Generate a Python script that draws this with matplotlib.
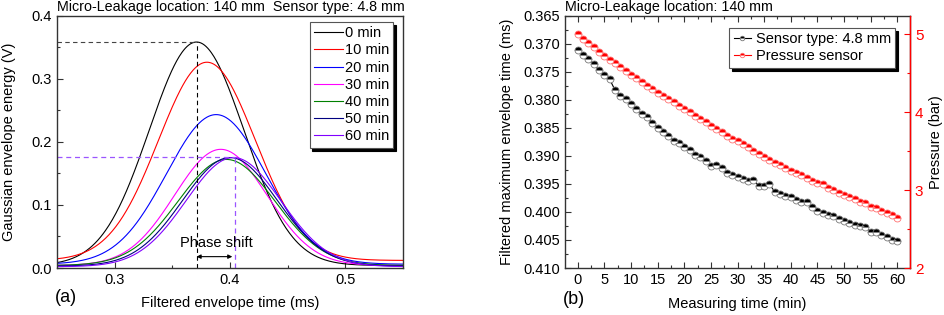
import matplotlib
matplotlib.use('Agg')
import matplotlib.pyplot as plt
import numpy as np

plt.rcParams['font.family'] = ['Liberation Sans', 'DejaVu Sans']
plt.rcParams['font.size'] = 10

# (a) Gaussian envelope fits
labels_a = ['0 min', '10 min', '20 min', '30 min', '40 min', '50 min', '60 min']
colors_a = ['black', 'red', 'blue', '#ff00ff', '#008000', '#000080', '#8000ff']
peak_time = [0.371, 0.380, 0.388, 0.392, 0.397, 0.400, 0.403]
peak_energy = [0.358, 0.326, 0.243, 0.188, 0.172, 0.175, 0.175]
spread = [0.041, 0.042, 0.043, 0.040, 0.042, 0.041, 0.041]
baseline = [0.004, 0.012, 0.006, 0.004, 0.004, 0.003, 0.002]
shift_start, shift_end = 0.371, 0.404
level_first, level_last = 0.358, 0.176

# (b) maximum envelope time and pressure vs measuring time
minutes = list(range(61))
env_time = [0.3711, 0.3720, 0.3728, 0.3737, 0.3747, 0.3756, 0.3764, 0.3783, 0.3793, 0.3799,
            0.3808, 0.3817, 0.3826, 0.3830, 0.3841, 0.3850, 0.3857, 0.3865, 0.3873, 0.3877,
            0.3885, 0.3890, 0.3899, 0.3902, 0.3909, 0.3919, 0.3916, 0.3922, 0.3931, 0.3934,
            0.3937, 0.3942, 0.3945, 0.3944, 0.3953, 0.3954, 0.3951, 0.3964, 0.3968, 0.3971,
            0.3973, 0.3979, 0.3983, 0.3983, 0.3991, 0.3999, 0.4002, 0.4005, 0.4008, 0.4012,
            0.4016, 0.4020, 0.4024, 0.4026, 0.4027, 0.4035, 0.4036, 0.4041, 0.4045, 0.4050,
            0.4052]
pressure = [5.00, 4.94, 4.885, 4.83, 4.775, 4.72, 4.675, 4.63, 4.575, 4.53,
            4.48, 4.44, 4.39, 4.34, 4.295, 4.245, 4.205, 4.165, 4.125, 4.085,
            4.04, 4.00, 3.95, 3.915, 3.87, 3.825, 3.785, 3.745, 3.70, 3.66,
            3.625, 3.59, 3.555, 3.505, 3.458, 3.423, 3.39, 3.349, 3.319, 3.277,
            3.243, 3.213, 3.19, 3.149, 3.119, 3.094, 3.072, 3.03, 3.0, 2.957,
            2.936, 2.915, 2.881, 2.851, 2.83, 2.787, 2.766, 2.736, 2.702, 2.681,
            2.647]

fig = plt.figure(figsize=(9.45, 3.15), dpi=100)
W, H = 945.0, 315.0
ax1 = fig.add_axes([57 / W, 1 - 268 / H, 346 / W, 252.5 / H])
ax2 = fig.add_axes([565 / W, 1 - 268 / H, 345 / W, 252.5 / H])

def style(ax):
    for s in ax.spines.values():
        s.set_linewidth(1.0)
        s.set_color('#333333')
    ax.tick_params(which='both', direction='in', width=0.8, colors='#333333', labelcolor='black',
                   labelsize=10.5)
    ax.tick_params(which='major', length=4)
    ax.tick_params(which='minor', length=2.3)

# ---- panel (a)
t = np.linspace(0.25, 0.55, 400)
for lab, c, mu, pk, s, b in zip(labels_a, colors_a, peak_time, peak_energy, spread, baseline):
    ax1.plot(t, b + (pk - b) * np.exp(-(t - mu) ** 2 / (2 * s ** 2)), color=c, lw=0.8, label=lab)

ax1.plot([0.25, shift_start], [level_first, level_first], ls=(0, (4, 3)), color='#444444', lw=0.8)
ax1.plot([shift_start, shift_start], [0, level_first], ls=(0, (4, 3)), color='black', lw=0.8)
ax1.plot([0.25, shift_end], [level_last, level_last], ls=(0, (4, 3)), color='#9b55ff', lw=0.9)
ax1.plot([shift_end, shift_end], [0, level_last], ls=(0, (4, 3)), color='#9b55ff', lw=0.9)
ax1.annotate('', xy=(shift_start, 0.018), xytext=(shift_end - 0.002, 0.018),
             arrowprops=dict(arrowstyle='<|-|>', color='black', lw=0.8, mutation_scale=6,
                             shrinkA=0, shrinkB=0))
ax1.text(0.3885, 0.039, 'Phase shift', ha='center', va='center', fontsize=10.5)

ax1.set_xlim(0.25, 0.55)
ax1.set_ylim(0, 0.4)
ax1.set_xticks([0.3, 0.4, 0.5])
ax1.set_xticks([0.35, 0.45], minor=True)
ax1.set_yticks([0.0, 0.1, 0.2, 0.3, 0.4])
ax1.set_yticks([0.05, 0.15, 0.25, 0.35], minor=True)
ax1.set_yticklabels(['0.0', '0.1', '0.2', '0.3', '0.4'])
style(ax1)
leg1 = ax1.legend(loc='upper right', bbox_to_anchor=(0.972, 0.975), frameon=True, fancybox=False,
                  shadow={'color': 'black', 'alpha': 1.0}, handlelength=2.0, handletextpad=0.1,
                  labelspacing=0.22, borderpad=0.3, borderaxespad=0.0, fontsize=10.5)
leg1.get_frame().set_edgecolor('#555555')
leg1.get_frame().set_linewidth(0.8)

fig.text(57 / W, 1 - 7 / H, 'Micro-Leakage location: 140 mm  Sensor type: 4.8 mm',
         ha='left', va='center', fontsize=10.3)
fig.text(230 / W, 1 - 303 / H, 'Filtered envelope time (ms)', ha='center', va='center', fontsize=10.5)
fig.text(9 / W, 1 - 142 / H, 'Gaussian envelope energy (V)', ha='center', va='center',
         rotation=90, fontsize=10.5)
fig.text(66 / W, 1 - 297 / H, '(a)', ha='center', va='center', fontsize=13)

# ---- panel (b)
ax2.plot(minutes, env_time, color='black', lw=0.8, marker='o', ms=5, fillstyle='top',
         markerfacecolor='black', markerfacecoloralt='white', markeredgecolor='#777777',
         mew=0.6, label='Sensor type: 4.8 mm')
ax2.set_xlim(-2.4, 62.4)
ax2.set_ylim(0.410, 0.365)
ax2.set_xticks(range(0, 61, 5))
ax2.set_xticks(np.arange(2.5, 61, 5), minor=True)
ax2.set_yticks(np.arange(0.365, 0.4101, 0.005))
ax2.set_yticks(np.arange(0.3675, 0.41, 0.005), minor=True)
ax2.set_yticklabels(['%.3f' % v for v in np.arange(0.365, 0.4101, 0.005)])
style(ax2)
ax2.tick_params(which='both', top=True)

ax3 = ax2.twinx()
ax3.plot(minutes, pressure, color='red', lw=0.8, marker='o', ms=5, fillstyle='top',
         markerfacecolor='red', markerfacecoloralt='white', markeredgecolor='#ff7070',
         mew=0.6, label='Pressure sensor')
ax3.set_ylim(2, 5.24)
ax3.set_yticks([2, 3, 4, 5])
ax3.set_yticks([2.5, 3.5, 4.5], minor=True)
ax3.spines['right'].set_color('red')
ax3.spines['right'].set_linewidth(1.0)
for k in ['left', 'top', 'bottom']:
    ax3.spines[k].set_visible(False)
ax3.tick_params(which='both', direction='in', colors='red', labelcolor='red', width=0.8, labelsize=11)
ax3.tick_params(which='major', length=4)
ax3.tick_params(which='minor', length=2.3)

h1, l1 = ax2.get_legend_handles_labels()
h2, l2 = ax3.get_legend_handles_labels()
leg2 = ax3.legend(h1 + h2, l1 + l2, loc='upper right', bbox_to_anchor=(0.957, 0.95), frameon=True,
                  fancybox=False, shadow={'color': 'black', 'alpha': 1.0}, handlelength=1.2,
                  handletextpad=0.3, labelspacing=0.2, borderpad=0.3, borderaxespad=0.0,
                  markerscale=0.65, fontsize=10.5)
leg2.get_frame().set_edgecolor('#555555')
leg2.get_frame().set_linewidth(0.8)

fig.text(565 / W, 1 - 7 / H, 'Micro-Leakage location: 140 mm', ha='left', va='center', fontsize=10.3)
fig.text(737 / W, 1 - 304 / H, 'Measuring time (min)', ha='center', va='center', fontsize=10.5)
fig.text(507 / W, 1 - 142 / H, 'Filtered maximum envelope time (ms)', ha='center', va='center',
         rotation=90, fontsize=10.5)
fig.text(936 / W, 1 - 142 / H, 'Pressure (bar)', ha='center', va='center', rotation=90, fontsize=10.5)
fig.text(574 / W, 1 - 299 / H, '(b)', ha='center', va='center', fontsize=13)

fig.savefig('out.png', dpi=100)
